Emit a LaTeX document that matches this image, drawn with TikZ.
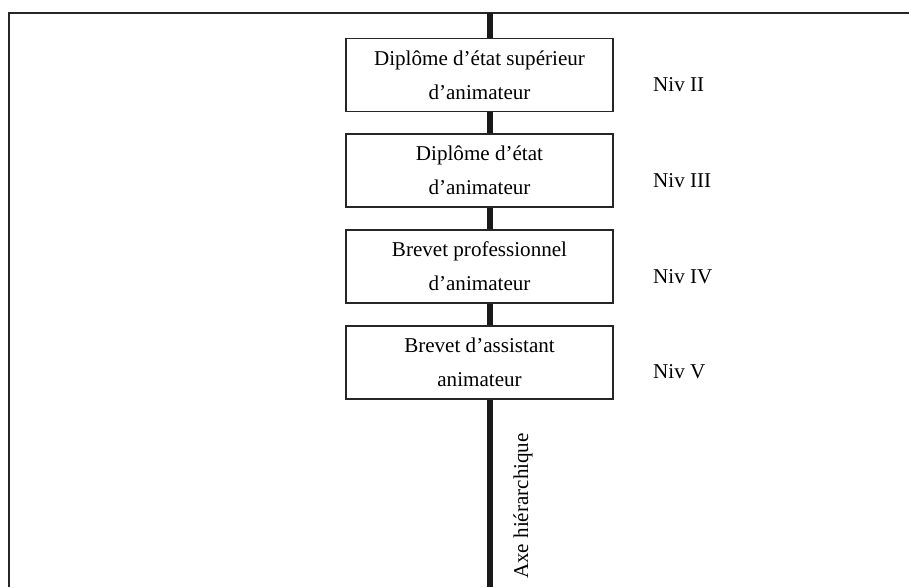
\documentclass[tikz,border=0pt]{standalone}
\usepackage{fontspec}
\setmainfont{Liberation Serif}
\tikzset{
	grade/.style={draw=black!85, line width=1.3pt, fill=white, align=center,
		minimum width=8.01cm, minimum height=2.19cm, inner sep=0pt,
		font=\fontsize{18}{29}\selectfont},
	niveau/.style={anchor=west, inner sep=0pt, font=\fontsize{18}{22}\selectfont},
}
\begin{document}
\begin{tikzpicture}[x=0.03cm,y=-0.03cm]
	\useasboundingbox (0,0) rectangle (909,587);
	% cadre
	\draw[color=black!85,line width=1.7pt] (9,587) -- (9,13) -- (909,13);
	% axe
	\coordinate (axtop) at (490,13);
	\coordinate (axbot) at (490,587);
	\draw[color=black!90,line width=5pt] (axtop) -- (axbot);
	\node[rotate=90, font=\fontsize{18}{22}\selectfont] (axe) at (523,506) {Axe hiérarchique};
	% diplomes
	\node[grade] (dess) at (479.5,75) {Diplôme d’état supérieur\\d’animateur};
	\node[grade] (de) at (479.5,170.5) {Diplôme d’état\\d’animateur};
	\node[grade] (bp) at (479.5,266.5) {Brevet professionnel\\d’animateur};
	\node[grade] (ba) at (479.5,362.5) {Brevet d’assistant\\animateur};
	% niveaux
	\node[niveau] (n2) at (653,85) {Niv II};
	\node[niveau] (n3) at (653,181) {Niv III};
	\node[niveau] (n4) at (653,276.5) {Niv IV};
	\node[niveau] (n5) at (653,372) {Niv V};
\end{tikzpicture}
\end{document}
